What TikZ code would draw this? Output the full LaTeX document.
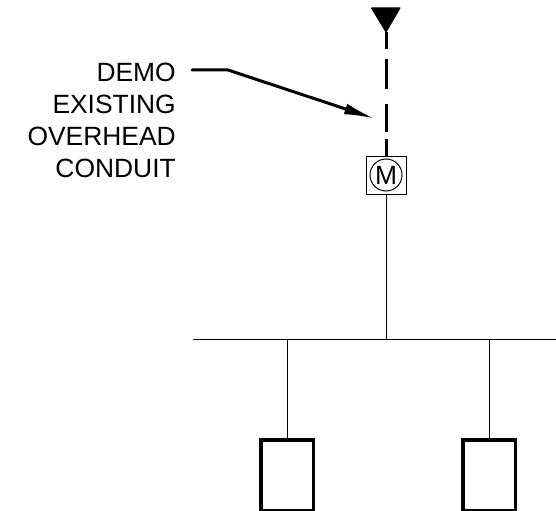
\documentclass[tikz,border=0pt]{standalone}
\usepackage{fontspec}
\setmainfont{Liberation Sans}
\usetikzlibrary{arrows.meta,positioning,shapes.geometric}
\newcommand{\myunit}{0.75pt}
\tikzset{
    thinsty/.style={line width=1*\myunit},
    thicksty/.style={line width=3*\myunit},
    dashsty/.style={thicksty,dash pattern=on 17*\myunit off 10*\myunit on 30*\myunit off 15*\myunit on 28*\myunit off 7*\myunit on 20*\myunit off 10*\myunit},
    motorsty/.style={draw,thinsty,rectangle,minimum width=40*\myunit,minimum height=38*\myunit,inner sep=0pt,outer sep=0pt,anchor=center},
    roundsty/.style={draw,thinsty,circle,minimum size=32*\myunit,inner sep=0pt,outer sep=0pt,font=\fontsize{19.8pt}{24pt}\selectfont},
    panelsty/.style={draw,line width=3.5*\myunit,rectangle,minimum width=52.5*\myunit,minimum height=70.5*\myunit,inner sep=0pt,outer sep=0pt,anchor=north},
    notesty/.style={align=right,anchor=north east,inner sep=0pt,font=\fontsize{19.8pt}{24pt}\selectfont},
}
\begin{document}
\begin{tikzpicture}[x=\myunit,y=-\myunit,>=latex]
\useasboundingbox (0,0) rectangle (556,510);

\node[motorsty] (M) at (386,175) {};
\node[roundsty] (MC) at (386,175) {M};

\coordinate (T) at (386,32);
\coordinate (TL) at (371.5,8);
\coordinate (TR) at (400,8);
\filldraw[thinsty,line join=round] (TL) -- (TR) -- (T) -- cycle;
\draw[dashsty] (T) -- (M.north);

\coordinate (BL) at (193,339);
\coordinate (BR) at (556,339);
\coordinate (B1) at (287,339);
\coordinate (B2) at (489,339);
\coordinate (BM) at (386,339);
\draw[thinsty] (BL) -- (BR);
\draw[thinsty] (M.south) -- (BM);

\node[panelsty] (P1) at (287,440) {};
\node[panelsty] (P2) at (489,440) {};
\draw[thinsty] (B1) -- (P1.north);
\draw[thinsty] (B2) -- (P2.north);

\node[notesty] (N) at (176,62.5) {DEMO\\EXISTING\\OVERHEAD\\CONDUIT};
\coordinate (L1) at (192,70);
\coordinate (L2) at (228,70);
\coordinate (L3) at (375,118.7);
\draw[thicksty,line cap=round,-{Latex[length=31*\myunit,width=11*\myunit]}] (L1) -- (L2) -- (L3);
\end{tikzpicture}
\end{document}
